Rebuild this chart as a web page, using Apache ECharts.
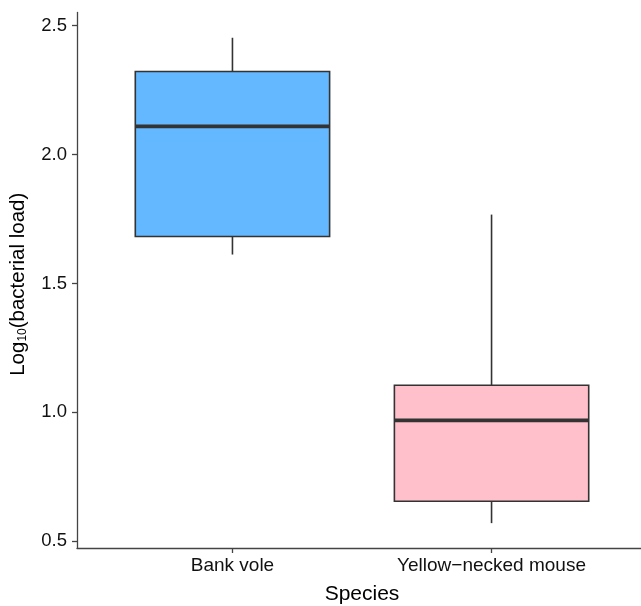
<html>
<head>
	<meta charset="utf-8">
	<script src="https://cdn.jsdelivr.net/npm/echarts@6/dist/echarts.min.js"></script>
	<style>
		body { margin: 0; background: #fff; }
		#chart { width: 641px; height: 606px; }
	</style>
</head>
<body>
<div id="chart"></div>
<script>
	// data
	var species = ['Bank vole', 'Yellow\u2212necked mouse'];
	var xPos = [1, 2];
	var whiskerLow = [1.612, 0.570];
	var q1 = [1.682, 0.655];
	var median = [2.109, 0.969];
	var q3 = [2.322, 1.105];
	var whiskerHigh = [2.453, 1.767];
	var fills = ['#63B8FF', '#FFC0CB'];
	var yTicks = [0.5, 1.0, 1.5, 2.0, 2.5];

	var boxData = [];
	for (var i = 0; i < species.length; i++) {
		boxData.push([xPos[i], whiskerLow[i], q1[i], median[i], q3[i], whiskerHigh[i], i]);
	}

	function renderBox(params, api) {
		var x = api.value(0);
		var half = api.size([0.75, 0])[0] / 2;
		var pLow = api.coord([x, api.value(1)]);
		var pQ1 = api.coord([x, api.value(2)]);
		var pMed = api.coord([x, api.value(3)]);
		var pQ3 = api.coord([x, api.value(4)]);
		var pHigh = api.coord([x, api.value(5)]);
		var stroke = '#333333';
		return {
			type: 'group',
			children: [
				{ type: 'line', shape: { x1: pHigh[0], y1: pHigh[1], x2: pQ3[0], y2: pQ3[1] }, style: { stroke: stroke, lineWidth: 1.6 } },
				{ type: 'line', shape: { x1: pQ1[0], y1: pQ1[1], x2: pLow[0], y2: pLow[1] }, style: { stroke: stroke, lineWidth: 1.6 } },
				{ type: 'rect', shape: { x: pQ3[0] - half, y: pQ3[1], width: half * 2, height: pQ1[1] - pQ3[1] },
				  style: { fill: fills[api.value(6)], stroke: stroke, lineWidth: 1.6 } },
				{ type: 'line', shape: { x1: pMed[0] - half, y1: pMed[1], x2: pMed[0] + half, y2: pMed[1] }, style: { stroke: stroke, lineWidth: 3.8 } }
			]
		};
	}

	var myChart = echarts.init(document.getElementById('chart'));
	var option = {
		animation: false,
		backgroundColor: '#fff',
		grid: { left: 77, right: -6, top: 12.5, bottom: 58, outerBoundsMode: 'none', containLabel: false },
		xAxis: {
			type: 'value',
			min: 0.4,
			max: 2.6,
			name: 'Species',
			nameLocation: 'middle',
			nameGap: 36,
			nameTextStyle: { fontFamily: 'Liberation Sans', fontSize: 21, color: '#000' },
			axisLine: { show: true, lineStyle: { color: '#444', width: 1.3 } },
			axisTick: { show: true, length: 5, customValues: xPos, lineStyle: { color: '#444', width: 1.3 } },
			axisLabel: {
				customValues: xPos,
				margin: 8,
				fontFamily: 'Liberation Sans', fontSize: 19, color: '#111',
				formatter: function (v) { return species[Math.round(v) - 1]; }
			},
			splitLine: { show: false }
		},
		yAxis: {
			type: 'value',
			min: 0.4735,
			max: 2.551,
			name: 'Log{sub|10}(bacterial load)',
			nameLocation: 'middle',
			nameGap: 48,
			nameRotate: 90,
			nameTextStyle: {
				fontFamily: 'Liberation Sans', fontSize: 20.5, color: '#000',
				padding: [0, 8, 0, 0],
				rich: { sub: { fontFamily: 'Liberation Sans', fontSize: 12, color: '#000', verticalAlign: 'bottom', padding: [7, 0, 0, 0] } }
			},
			axisLine: { show: true, lineStyle: { color: '#444', width: 1.3 } },
			axisTick: { show: true, length: 5, customValues: yTicks, lineStyle: { color: '#444', width: 1.3 } },
			axisLabel: {
				customValues: yTicks,
				margin: 10,
				fontFamily: 'Liberation Sans', fontSize: 18.5, color: '#111',
				formatter: function (v) { return v.toFixed(1); }
			},
			splitLine: { show: false }
		},
		series: [
			{
				type: 'custom',
				renderItem: renderBox,
				encode: { x: 0, y: [1, 2, 3, 4, 5] },
				data: boxData
			}
		]
	};
	myChart.setOption(option);
</script>
</body>
</html>
